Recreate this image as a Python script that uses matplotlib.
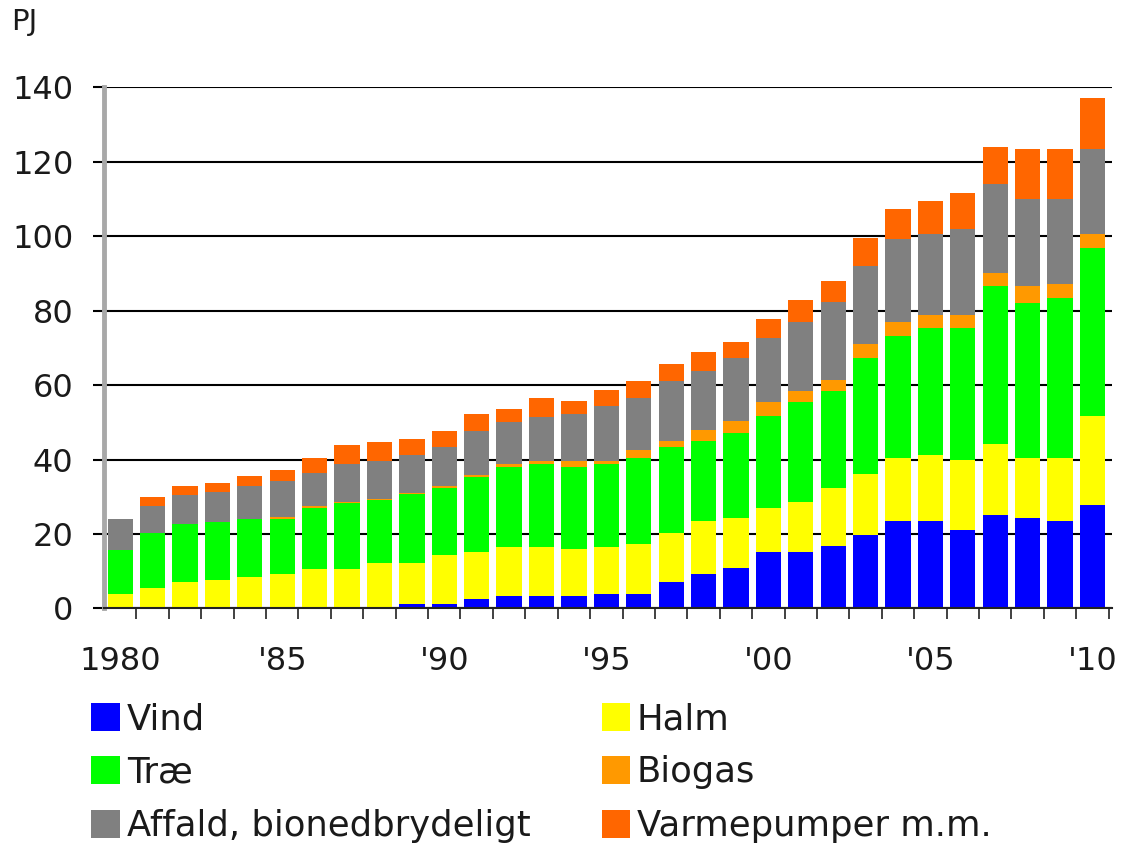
import numpy as np
import matplotlib
matplotlib.use("Agg")
import matplotlib.pyplot as plt

# data (PJ)
years = np.arange(1980, 2011)
vind = [0, 0, 0, 0, 0, 0.1, 0.3, 0.4, 0.5, 1.2, 1.2, 2.6, 3.3, 3.3, 3.3, 4.0,
        4.0, 7.0, 9.3, 10.8, 15.3, 15.3, 16.8, 19.7, 23.5, 23.5, 21.2, 25.0,
        24.2, 23.5, 27.9]
halm = [3.9, 5.5, 7.0, 7.6, 8.4, 9.1, 10.3, 10.2, 11.7, 11.0, 13.2, 12.5,
        13.3, 13.3, 12.6, 12.6, 13.3, 13.4, 14.2, 13.4, 11.8, 13.4, 15.6, 16.4,
        16.9, 17.7, 18.6, 19.2, 16.2, 16.9, 23.7]
trae = [11.9, 14.9, 15.6, 15.7, 15.6, 14.9, 16.4, 17.8, 17.0, 18.5, 17.9,
        20.2, 21.5, 22.2, 22.2, 22.2, 23.1, 23.1, 21.5, 23.0, 24.6, 26.7, 26.0,
        31.2, 32.8, 34.1, 35.5, 42.3, 41.6, 43.1, 45.3]
biogas = [0, 0, 0, 0, 0, 0.5, 0.6, 0.2, 0.2, 0.2, 0.6, 0.6, 0.7, 0.8, 1.5,
          0.8, 2.2, 1.4, 3.0, 3.1, 3.7, 3.0, 3.0, 3.8, 3.8, 3.6, 3.6, 3.6, 4.5,
          3.7, 3.7]
affald = [8.3, 7.2, 8.0, 8.1, 8.8, 9.7, 8.9, 10.2, 10.2, 10.2, 10.4, 11.8,
          11.2, 11.8, 12.6, 14.7, 13.9, 16.3, 15.7, 17.0, 17.2, 18.6, 20.8,
          20.8, 22.2, 21.7, 23.0, 23.8, 23.5, 22.8, 22.8]
varme = [0, 2.3, 2.3, 2.2, 2.9, 2.9, 3.9, 5.1, 5.1, 4.4, 4.4, 4.5, 3.6, 5.2,
         3.6, 4.5, 4.6, 4.4, 5.1, 4.4, 5.2, 5.9, 5.8, 7.5, 8.0, 8.8, 9.8, 10.2,
         13.4, 13.4, 13.6]

series = [vind, halm, trae, biogas, affald, varme]
labels = ["Vind", "Halm", "Træ", "Biogas", "Affald, bionedbrydeligt",
          "Varmepumper m.m."]
colors = ["#0000FF", "#FFFF00", "#00FF00", "#FF9900", "#808080", "#FF6600"]

xtick_pos = [1980, 1985, 1990, 1995, 2000, 2005, 2010]
xtick_labels = ["1980", "'85", "'90", "'95", "'00", "'05", "'10"]

plt.rcParams['font.family'] = ['DejaVu Sans']
txt_col = "#1a1a1a"

fig = plt.figure(figsize=(11.25, 8.51), dpi=100)
ax = fig.add_axes([0.0924, 0.2850, 0.896, 0.6124])

bottom = np.zeros(len(years))
handles = []
for vals, lab, col in zip(series, labels, colors):
    b = ax.bar(years, vals, bottom=bottom, width=0.78, color=col,
               linewidth=0, zorder=3, label=lab)
    handles.append(b)
    bottom += np.array(vals)

ax.set_xlim(1979.5, 2010.6)
ax.set_ylim(0, 140)
ax.set_yticks(np.arange(0, 141, 20))
ax.yaxis.grid(True, color="black", linewidth=1.5)
ax.set_axisbelow(True)

ax.set_xticks(xtick_pos)
ax.set_xticklabels(xtick_labels)
ax.set_xticks(np.arange(1980.5, 2011, 1), minor=True)
ax.tick_params(axis="x", which="major", length=0, pad=27, labelsize=23,
               labelcolor=txt_col)
ax.tick_params(axis="x", which="minor", length=8, width=1.3, color="#333333",
               direction="out")
ax.tick_params(axis="y", length=8, width=1.5, color="black", pad=14,
               labelsize=23, labelcolor=txt_col)

for s in ["top", "right"]:
    ax.spines[s].set_visible(False)
ax.spines["left"].set_color("#a8a8a8")
ax.spines["left"].set_linewidth(3.5)
ax.spines["left"].set_zorder(4)
ax.spines["bottom"].set_color("#222222")
ax.spines["bottom"].set_linewidth(1.5)
ax.spines["bottom"].set_zorder(4)

fig.text(11 / 1125, 1 - 8 / 851, "PJ", fontsize=21, color=txt_col,
         ha="left", va="top")

# legend: column-major order
order = [0, 2, 4, 1, 3, 5]
fig.legend([handles[i] for i in order], [labels[i] for i in order],
           loc="upper left", bbox_to_anchor=(91.5 / 1125, 1 - 702 / 851),
           ncol=2, frameon=False, fontsize=25.5, borderpad=0,
           borderaxespad=0, handlelength=0.8, handleheight=0.85,
           handletextpad=0.2, labelspacing=0.55, columnspacing=2.0,
           labelcolor=txt_col)

fig.savefig("out.png", dpi=100)
